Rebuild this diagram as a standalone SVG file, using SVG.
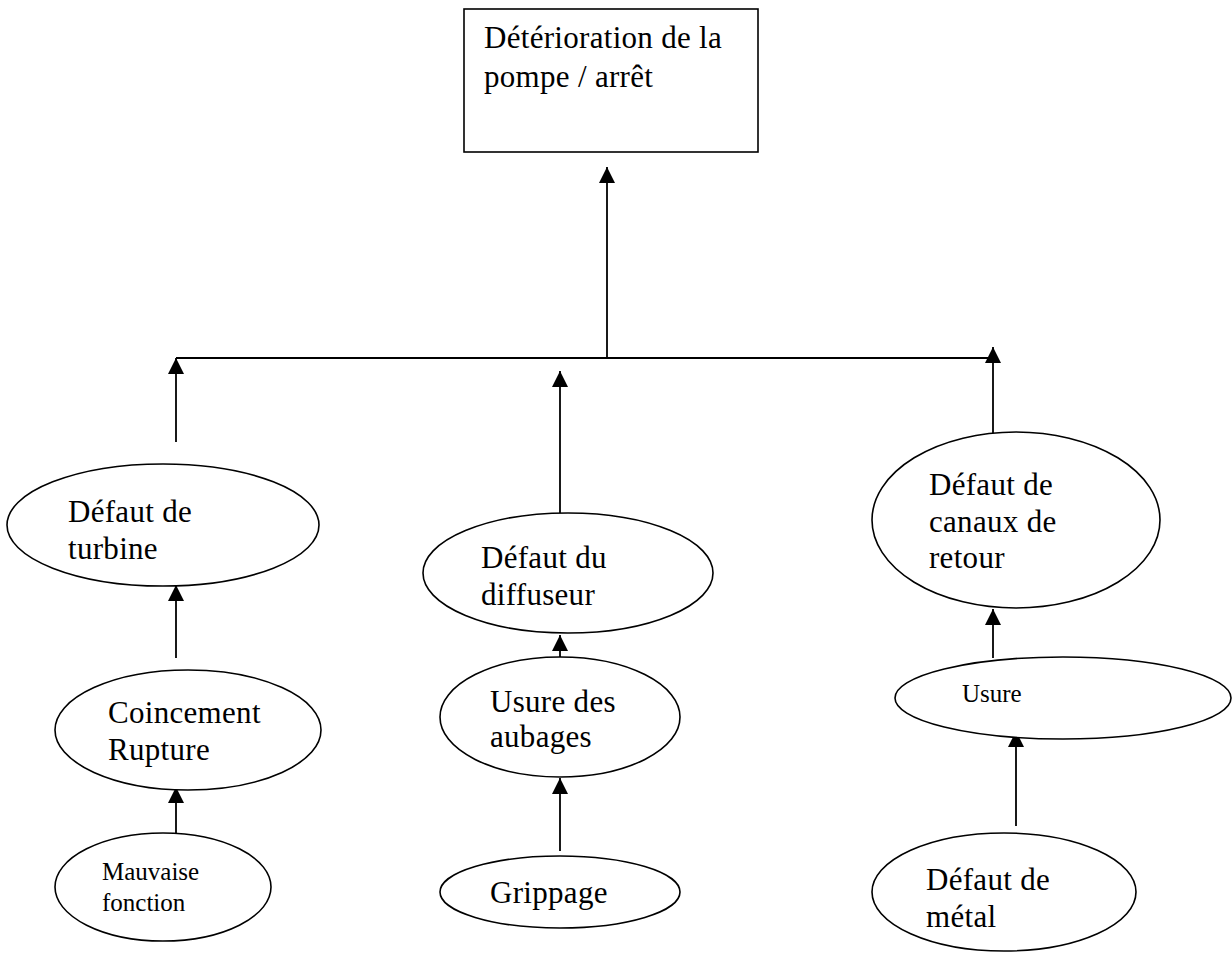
<svg xmlns="http://www.w3.org/2000/svg" width="1232" height="958" viewBox="0 0 1232 958">
  <style>
    .node { fill: #ffffff; stroke: #000000; stroke-width: 1.6; }
    .edge { fill: none; stroke: #000000; stroke-width: 1.8; }
    .lbl { font-family: "Liberation Serif", "Times New Roman", serif; font-size: 31px; letter-spacing: 0.3px; fill: #000000; }
    .small { font-size: 25px; letter-spacing: 0; }
  </style>
  <defs>
    <marker id="arrow" viewBox="0 0 10 10" refX="10" refY="5" markerUnits="userSpaceOnUse" markerWidth="16" markerHeight="16" orient="auto">
      <path d="M0,0 L10,5 L0,10 Z" fill="#000000"/>
    </marker>
  </defs>
  <rect width="1232" height="958" fill="#ffffff"/>

  <!-- connectors -->
  <g id="connectors">
    <line class="edge" x1="607" y1="358" x2="607" y2="167" marker-end="url(#arrow)"/>
    <line class="edge" x1="176" y1="358" x2="992" y2="358"/>
    <line class="edge" x1="176" y1="442" x2="176" y2="358" marker-end="url(#arrow)"/>
    <line class="edge" x1="560" y1="513" x2="560" y2="371" marker-end="url(#arrow)"/>
    <line class="edge" x1="993" y1="442" x2="993" y2="347" marker-end="url(#arrow)"/>
    <line class="edge" x1="176" y1="658" x2="176" y2="585" marker-end="url(#arrow)"/>
    <line class="edge" x1="176" y1="833" x2="176" y2="787" marker-end="url(#arrow)"/>
    <line class="edge" x1="560" y1="657" x2="560" y2="635" marker-end="url(#arrow)"/>
    <line class="edge" x1="560" y1="851" x2="560" y2="778" marker-end="url(#arrow)"/>
    <line class="edge" x1="993" y1="658" x2="993" y2="609" marker-end="url(#arrow)"/>
    <line class="edge" x1="1016" y1="826" x2="1016" y2="731" marker-end="url(#arrow)"/>
  </g>

  <g id="top">
    <rect class="node" x="464" y="9" width="294" height="143"/>
    <text class="lbl" x="484" y="48">Détérioration de la</text>
    <text class="lbl" x="484" y="87">pompe / arrêt</text>
  </g>

  <g id="turbine">
    <ellipse class="node" cx="163" cy="525" rx="156" ry="61"/>
    <text class="lbl" x="68" y="522">Défaut de</text>
    <text class="lbl" x="68" y="559">turbine</text>
  </g>

  <g id="coincement">
    <ellipse class="node" cx="188" cy="730" rx="133" ry="60"/>
    <text class="lbl" x="108" y="723">Coincement</text>
    <text class="lbl" x="108" y="760">Rupture</text>
  </g>

  <g id="mauvaise">
    <ellipse class="node" cx="163" cy="887" rx="108" ry="54"/>
    <text class="lbl small" x="102" y="880">Mauvaise</text>
    <text class="lbl small" x="102" y="911">fonction</text>
  </g>

  <g id="diffuseur">
    <ellipse class="node" cx="568" cy="573" rx="145" ry="60"/>
    <text class="lbl" x="481" y="568">Défaut du</text>
    <text class="lbl" x="481" y="605">diffuseur</text>
  </g>

  <g id="aubages">
    <ellipse class="node" cx="560" cy="717" rx="120" ry="60"/>
    <text class="lbl" x="490" y="712">Usure des</text>
    <text class="lbl" x="490" y="747">aubages</text>
  </g>

  <g id="grippage">
    <ellipse class="node" cx="560" cy="892" rx="120" ry="36"/>
    <text class="lbl" x="490" y="903">Grippage</text>
  </g>

  <g id="canaux">
    <ellipse class="node" cx="1016" cy="520" rx="144" ry="88"/>
    <text class="lbl" x="929" y="495">Défaut de</text>
    <text class="lbl" x="929" y="532">canaux de</text>
    <text class="lbl" x="929" y="568">retour</text>
  </g>

  <g id="usure">
    <ellipse class="node" cx="1063" cy="698" rx="168" ry="41"/>
    <text class="lbl small" x="962" y="702">Usure</text>
  </g>

  <g id="metal">
    <ellipse class="node" cx="1004" cy="892" rx="132" ry="59"/>
    <text class="lbl" x="926" y="890">Défaut de</text>
    <text class="lbl" x="926" y="927">métal</text>
  </g>
</svg>
